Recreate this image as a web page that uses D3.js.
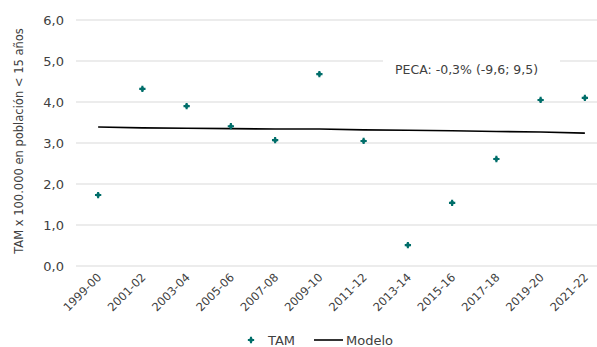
<!DOCTYPE html>
<html>
<head>
<meta charset="utf-8">
<script src="https://cdn.jsdelivr.net/npm/d3@7"></script>
<style>
  body { margin: 0; background: #fff; }
  text { font-family: "DejaVu Sans", "Noto Sans", sans-serif; fill: #404040; }
</style>
</head>
<body>
<svg id="chart" width="597" height="347"></svg>
<script>
// data
var periods = ["1999-00","2001-02","2003-04","2005-06","2007-08","2009-10",
               "2011-12","2013-14","2015-16","2017-18","2019-20","2021-22"];
var tam = [1.73, 4.32, 3.90, 3.41, 3.07, 4.68, 3.05, 0.51, 1.54, 2.61, 4.05, 4.10];
var modelo = [3.39, 3.37, 3.36, 3.35, 3.34, 3.34, 3.32, 3.31, 3.30, 3.28, 3.27, 3.24];
var yTicks = [0, 1, 2, 3, 4, 5, 6];
var pecaLabel = "PECA: -0,3% (-9,6; 9,5)";

var svg = d3.select("#chart");
var teal = "#006e6a";

var x = d3.scaleBand().domain(periods).range([76, 607]);
var y = d3.scaleLinear().domain([0, 6]).range([266, 20]);
var cx = function(d) { return x(d) + x.bandwidth() / 2; };

// gridlines
svg.append("g").selectAll("line")
  .data(yTicks).enter().append("line")
  .attr("x1", 76).attr("x2", 597)
  .attr("y1", function(d) { return y(d); })
  .attr("y2", function(d) { return y(d); })
  .attr("stroke", "#d9d9d9").attr("stroke-width", 1);

// y tick labels
svg.append("g").selectAll("text")
  .data(yTicks).enter().append("text")
  .attr("x", 64)
  .attr("y", function(d) { return y(d); })
  .attr("dy", "0.35em")
  .attr("text-anchor", "end")
  .style("font-size", "13px")
  .text(function(d) { return d3.format(".1f")(d).replace(".", ","); });

// y axis title
svg.append("text")
  .attr("transform", "translate(23,141) rotate(-90)")
  .attr("text-anchor", "middle")
  .style("font-size", "11.5px")
  .text("TAM x 100.000 en población < 15 años");

// x tick labels
svg.append("g").selectAll("text")
  .data(periods).enter().append("text")
  .attr("transform", function(d) { return "translate(" + (cx(d) + 4) + ",278) rotate(-45)"; })
  .attr("text-anchor", "end")
  .style("font-size", "11.5px")
  .text(function(d) { return d; });

// PECA annotation with white box over grid
svg.append("rect")
  .attr("x", 383).attr("y", 54).attr("width", 177).attr("height", 26)
  .attr("fill", "#fff");
svg.append("text")
  .attr("x", 395).attr("y", 74)
  .style("font-size", "12.5px")
  .text(pecaLabel);

// model line
var line = d3.line()
  .x(function(d, i) { return cx(periods[i]); })
  .y(function(d) { return y(d); });
svg.append("path")
  .datum(modelo)
  .attr("d", line)
  .attr("fill", "none")
  .attr("stroke", "#000")
  .attr("stroke-width", 1.6);

// TAM points
var marker = d3.symbol().type(d3.symbolCross).size(22);
function drawMarker(sel) {
  sel.append("path").attr("d", marker).attr("fill", teal);
  sel.append("circle").attr("r", 2).attr("fill", teal);
}
svg.append("g").selectAll("g")
  .data(tam).enter().append("g")
  .attr("transform", function(d, i) { return "translate(" + cx(periods[i]) + "," + y(d) + ")"; })
  .call(drawMarker);

// legend
var lg = svg.append("g");
lg.append("g").attr("transform", "translate(251,340)").call(drawMarker);
lg.append("text").attr("x", 268).attr("y", 340).attr("dy", "0.35em")
  .style("font-size", "13px").text("TAM");
lg.append("line")
  .attr("x1", 314).attr("x2", 343).attr("y1", 340).attr("y2", 340)
  .attr("stroke", "#000").attr("stroke-width", 1.6);
lg.append("text").attr("x", 346).attr("y", 340).attr("dy", "0.35em")
  .style("font-size", "13px").text("Modelo");
</script>
</body>
</html>
